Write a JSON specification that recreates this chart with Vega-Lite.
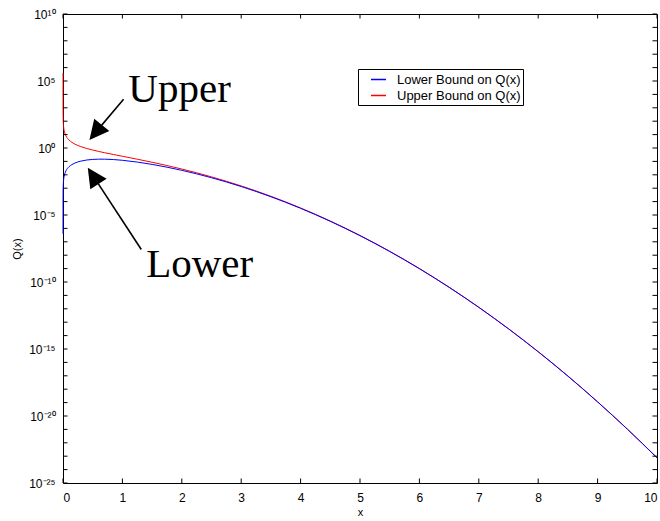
{
  "$schema": "https://vega.github.io/schema/vega-lite/v6.json",
  "width": 594,
  "height": 469,
  "autosize": {"type": "none"},
  "padding": {"left": 63, "top": 14, "right": 3, "bottom": 38},
  "background": "white",
  "config": {
    "view": {"stroke": "black", "strokeWidth": 1},
    "axis": {
      "labelFont": "Liberation Sans",
      "titleFont": "Liberation Sans",
      "labelFontSize": 12,
      "titleFontSize": 11,
      "titleFontWeight": "normal",
      "labelColor": "black",
      "titleColor": "black",
      "grid": false,
      "domain": false,
      "ticks": false,
      "tickSize": 0
    },
    "legend": {
      "labelFont": "Liberation Sans",
      "labelFontSize": 13,
      "labelColor": "black"
    }
  },
  "datasets": {
    "xticks": [{"t": 0}, {"t": 1}, {"t": 2}, {"t": 3}, {"t": 4}, {"t": 5}, {"t": 6}, {"t": 7}, {"t": 8}, {"t": 9}, {"t": 10}],
    "yticks": [{"t": 1e-25}, {"t": 1e-24}, {"t": 1e-23}, {"t": 1e-22}, {"t": 1e-21}, {"t": 1e-20}, {"t": 1e-19}, {"t": 1e-18}, {"t": 1e-17}, {"t": 1e-16}, {"t": 1e-15}, {"t": 1e-14}, {"t": 1e-13}, {"t": 1e-12}, {"t": 1e-11}, {"t": 1e-10}, {"t": 1e-9}, {"t": 1e-8}, {"t": 1e-7}, {"t": 1e-6}, {"t": 1e-5}, {"t": 1e-4}, {"t": 1e-3}, {"t": 1e-2}, {"t": 1e-1}, {"t": 1}, {"t": 10}, {"t": 100}, {"t": 1000}, {"t": 1e4}, {"t": 1e5}, {"t": 1e6}, {"t": 1e7}, {"t": 1e8}, {"t": 1e9}, {"t": 1e10}],
    "curves": [
      {"x": 0.000001, "q": 398942, "bound": "Upper Bound on Q(x)"},
      {"x": 0.00001, "q": 39894.2, "bound": "Upper Bound on Q(x)"},
      {"x": 0.0001, "q": 3989.42, "bound": "Upper Bound on Q(x)"},
      {"x": 0.001, "q": 398.942, "bound": "Upper Bound on Q(x)"},
      {"x": 0.003, "q": 132.98, "bound": "Upper Bound on Q(x)"},
      {"x": 0.01, "q": 39.89, "bound": "Upper Bound on Q(x)"},
      {"x": 0.02, "q": 19.943, "bound": "Upper Bound on Q(x)"},
      {"x": 0.03, "q": 13.292, "bound": "Upper Bound on Q(x)"},
      {"x": 0.05, "q": 7.9689, "bound": "Upper Bound on Q(x)"},
      {"x": 0.1, "q": 3.9695, "bound": "Upper Bound on Q(x)"},
      {"x": 0.15, "q": 2.6299, "bound": "Upper Bound on Q(x)"},
      {"x": 0.2, "q": 1.9552, "bound": "Upper Bound on Q(x)"},
      {"x": 0.25, "q": 1.5467, "bound": "Upper Bound on Q(x)"},
      {"x": 0.3, "q": 1.2713, "bound": "Upper Bound on Q(x)"},
      {"x": 0.4, "q": 0.92068, "bound": "Upper Bound on Q(x)"},
      {"x": 0.5, "q": 0.70413, "bound": "Upper Bound on Q(x)"},
      {"x": 0.6, "q": 0.55538, "bound": "Upper Bound on Q(x)"},
      {"x": 0.7, "q": 0.44608, "bound": "Upper Bound on Q(x)"},
      {"x": 0.85, "q": 0.32704, "bound": "Upper Bound on Q(x)"},
      {"x": 1, "q": 0.24197, "bound": "Upper Bound on Q(x)"},
      {"x": 1.25, "q": 0.14612, "bound": "Upper Bound on Q(x)"},
      {"x": 1.5, "q": 0.086345, "bound": "Upper Bound on Q(x)"},
      {"x": 2, "q": 0.026995, "bound": "Upper Bound on Q(x)"},
      {"x": 2.5, "q": 0.0070113, "bound": "Upper Bound on Q(x)"},
      {"x": 3, "q": 0.0014773, "bound": "Upper Bound on Q(x)"},
      {"x": 3.5, "q": 0.00024934, "bound": "Upper Bound on Q(x)"},
      {"x": 4, "q": 3.3458e-5, "bound": "Upper Bound on Q(x)"},
      {"x": 4.5, "q": 3.5519e-6, "bound": "Upper Bound on Q(x)"},
      {"x": 5, "q": 2.9734e-7, "bound": "Upper Bound on Q(x)"},
      {"x": 5.5, "q": 1.9582e-8, "bound": "Upper Bound on Q(x)"},
      {"x": 6, "q": 1.0127e-9, "bound": "Upper Bound on Q(x)"},
      {"x": 6.5, "q": 4.107e-11, "bound": "Upper Bound on Q(x)"},
      {"x": 7, "q": 1.305e-12, "bound": "Upper Bound on Q(x)"},
      {"x": 7.5, "q": 3.2458e-14, "bound": "Upper Bound on Q(x)"},
      {"x": 8, "q": 6.3153e-16, "bound": "Upper Bound on Q(x)"},
      {"x": 8.5, "q": 9.6025e-18, "bound": "Upper Bound on Q(x)"},
      {"x": 9, "q": 1.1422e-19, "bound": "Upper Bound on Q(x)"},
      {"x": 9.5, "q": 1.0607e-21, "bound": "Upper Bound on Q(x)"},
      {"x": 10, "q": 7.6946e-24, "bound": "Upper Bound on Q(x)"},
      {"x": 0.000001, "q": 3.9894e-7, "bound": "Lower Bound on Q(x)"},
      {"x": 0.00001, "q": 3.9894e-6, "bound": "Lower Bound on Q(x)"},
      {"x": 0.0001, "q": 3.9894e-5, "bound": "Lower Bound on Q(x)"},
      {"x": 0.001, "q": 0.00039894, "bound": "Lower Bound on Q(x)"},
      {"x": 0.003, "q": 0.0011968, "bound": "Lower Bound on Q(x)"},
      {"x": 0.01, "q": 0.0039889, "bound": "Lower Bound on Q(x)"},
      {"x": 0.02, "q": 0.007974, "bound": "Lower Bound on Q(x)"},
      {"x": 0.03, "q": 0.011952, "bound": "Lower Bound on Q(x)"},
      {"x": 0.05, "q": 0.019873, "bound": "Lower Bound on Q(x)"},
      {"x": 0.1, "q": 0.039302, "bound": "Lower Bound on Q(x)"},
      {"x": 0.15, "q": 0.05787, "bound": "Lower Bound on Q(x)"},
      {"x": 0.2, "q": 0.075201, "bound": "Lower Bound on Q(x)"},
      {"x": 0.25, "q": 0.090981, "bound": "Lower Bound on Q(x)"},
      {"x": 0.3, "q": 0.10497, "bound": "Lower Bound on Q(x)"},
      {"x": 0.4, "q": 0.12699, "bound": "Lower Bound on Q(x)"},
      {"x": 0.5, "q": 0.14083, "bound": "Lower Bound on Q(x)"},
      {"x": 0.6, "q": 0.14701, "bound": "Lower Bound on Q(x)"},
      {"x": 0.7, "q": 0.1467, "bound": "Lower Bound on Q(x)"},
      {"x": 0.85, "q": 0.13717, "bound": "Lower Bound on Q(x)"},
      {"x": 1, "q": 0.12099, "bound": "Lower Bound on Q(x)"},
      {"x": 1.25, "q": 0.089097, "bound": "Lower Bound on Q(x)"},
      {"x": 1.5, "q": 0.059777, "bound": "Lower Bound on Q(x)"},
      {"x": 2, "q": 0.021596, "bound": "Lower Bound on Q(x)"},
      {"x": 2.5, "q": 0.0060442, "bound": "Lower Bound on Q(x)"},
      {"x": 3, "q": 0.0013296, "bound": "Lower Bound on Q(x)"},
      {"x": 3.5, "q": 0.00023052, "bound": "Lower Bound on Q(x)"},
      {"x": 4, "q": 3.1489e-5, "bound": "Lower Bound on Q(x)"},
      {"x": 4.5, "q": 3.3848e-6, "bound": "Lower Bound on Q(x)"},
      {"x": 5, "q": 2.8591e-7, "bound": "Lower Bound on Q(x)"},
      {"x": 5.5, "q": 1.8955e-8, "bound": "Lower Bound on Q(x)"},
      {"x": 6, "q": 9.8528e-10, "bound": "Lower Bound on Q(x)"},
      {"x": 6.5, "q": 4.0121e-11, "bound": "Lower Bound on Q(x)"},
      {"x": 7, "q": 1.2789e-12, "bound": "Lower Bound on Q(x)"},
      {"x": 7.5, "q": 3.1891e-14, "bound": "Lower Bound on Q(x)"},
      {"x": 8, "q": 6.2182e-16, "bound": "Lower Bound on Q(x)"},
      {"x": 8.5, "q": 9.4713e-18, "bound": "Lower Bound on Q(x)"},
      {"x": 9, "q": 1.1283e-19, "bound": "Lower Bound on Q(x)"},
      {"x": 9.5, "q": 1.0491e-21, "bound": "Lower Bound on Q(x)"},
      {"x": 10, "q": 7.6184e-24, "bound": "Lower Bound on Q(x)"}
    ]
  },
  "layer": [
    {
      "data": {"name": "curves"},
      "mark": {"type": "line", "strokeWidth": 1, "interpolate": "monotone", "clip": false},
      "encoding": {
        "x": {
          "field": "x", "type": "quantitative",
          "scale": {"domain": [0, 10], "nice": false, "zero": false},
          "axis": {"orient": "bottom", "values": [0,1,2,3,4,5,6,7,8,9,10], "format": "d", "labelPadding": 9, "title": "x", "titlePadding": 3}
        },
        "y": {
          "field": "q", "type": "quantitative",
          "scale": {"type": "log", "domain": [1e-25, 1e10], "nice": false},
          "axis": {
            "orient": "left",
            "values": [1e-25,1e-20,1e-15,1e-10,1e-5,1,1e5,1e10],
            "labelExpr": "round(log(datum.value)/LN10) == 10 ? '10¹⁰' : round(log(datum.value)/LN10) == 5 ? '10⁵' : round(log(datum.value)/LN10) == 0 ? '10⁰' : round(log(datum.value)/LN10) == -5 ? '10⁻⁵' : round(log(datum.value)/LN10) == -10 ? '10⁻¹⁰' : round(log(datum.value)/LN10) == -15 ? '10⁻¹⁵' : round(log(datum.value)/LN10) == -20 ? '10⁻²⁰' : round(log(datum.value)/LN10) == -25 ? '10⁻²⁵' : ''",
            "labelPadding": 8,
            "title": "Q(x)",
            "titlePadding": 6
          }
        },
        "color": {
          "field": "bound", "type": "nominal",
          "scale": {"domain": ["Lower Bound on Q(x)", "Upper Bound on Q(x)"], "range": ["#0000ff", "#ff0000"]},
          "legend": {
            "title": null,
            "orient": "none",
            "legendX": 295,
            "legendY": 55,
            "strokeColor": "black",
            "fillColor": "white",
            "padding": 2,
            "symbolSize": 225,
            "symbolOffset": 10,
            "labelOffset": 10,
            "rowPadding": 0
          }
        }
      }
    },
    {
      "data": {"name": "xticks"},
      "mark": {"type": "rule", "color": "black", "strokeWidth": 1},
      "encoding": {
        "x": {"field": "t", "type": "quantitative", "scale": {"domain": [0, 10], "nice": false, "zero": false}, "axis": null},
        "y": {"datum": 1e-25, "type": "quantitative", "scale": {"type": "log", "domain": [1e-25, 1e10], "nice": false}, "axis": null},
        "y2": {"datum": 2.17e-25}
      }
    },
    {
      "data": {"name": "xticks"},
      "mark": {"type": "rule", "color": "black", "strokeWidth": 1},
      "encoding": {
        "x": {"field": "t", "type": "quantitative", "scale": {"domain": [0, 10], "nice": false, "zero": false}, "axis": null},
        "y": {"datum": 1e10, "type": "quantitative", "scale": {"type": "log", "domain": [1e-25, 1e10], "nice": false}, "axis": null},
        "y2": {"datum": 4.61e9}
      }
    },
    {
      "data": {"name": "yticks"},
      "mark": {"type": "rule", "color": "black", "strokeWidth": 1},
      "encoding": {
        "y": {"field": "t", "type": "quantitative", "scale": {"type": "log", "domain": [1e-25, 1e10], "nice": false}, "axis": null},
        "x": {"datum": 0, "type": "quantitative", "scale": {"domain": [0, 10], "nice": false, "zero": false}, "axis": null},
        "x2": {"datum": 0.076}
      }
    },
    {
      "data": {"name": "yticks"},
      "mark": {"type": "rule", "color": "black", "strokeWidth": 1},
      "encoding": {
        "y": {"field": "t", "type": "quantitative", "scale": {"type": "log", "domain": [1e-25, 1e10], "nice": false}, "axis": null},
        "x": {"datum": 10, "type": "quantitative", "scale": {"domain": [0, 10], "nice": false, "zero": false}, "axis": null},
        "x2": {"datum": 9.924}
      }
    },
    {
      "data": {"values": [
        {"x": 1.02, "y": 4266, "x2": 0.549, "y2": 14.62},
        {"x": 1.318, "y": 2.67e-8, "x2": 0.507, "y2": 0.00839}
      ]},
      "mark": {"type": "rule", "color": "black", "strokeWidth": 1.6},
      "encoding": {
        "x": {"field": "x", "type": "quantitative", "scale": {"domain": [0, 10], "nice": false, "zero": false}, "axis": null},
        "y": {"field": "y", "type": "quantitative", "scale": {"type": "log", "domain": [1e-25, 1e10], "nice": false}, "axis": null},
        "x2": {"field": "x2"},
        "y2": {"field": "y2"}
      }
    },
    {
      "data": {"values": [{"x": 0.549, "y": 14.62}]},
      "mark": {"type": "point", "shape": "M0,-1L-1,1L1,1Z", "filled": true, "color": "black", "opacity": 1, "size": 380, "angle": 219.3},
      "encoding": {
        "x": {"field": "x", "type": "quantitative", "scale": {"domain": [0, 10], "nice": false, "zero": false}, "axis": null},
        "y": {"field": "y", "type": "quantitative", "scale": {"type": "log", "domain": [1e-25, 1e10], "nice": false}, "axis": null}
      }
    },
    {
      "data": {"values": [{"x": 0.507, "y": 0.00839}]},
      "mark": {"type": "point", "shape": "M0,-1L-1,1L1,1Z", "filled": true, "color": "black", "opacity": 1, "size": 380, "angle": 326.8},
      "encoding": {
        "x": {"field": "x", "type": "quantitative", "scale": {"domain": [0, 10], "nice": false, "zero": false}, "axis": null},
        "y": {"field": "y", "type": "quantitative", "scale": {"type": "log", "domain": [1e-25, 1e10], "nice": false}, "axis": null}
      }
    },
    {
      "data": {"values": [
        {"x": 1.1, "y": 2680, "label": "Upper"},
        {"x": 1.4, "y": 2.29e-10, "label": "Lower"}
      ]},
      "mark": {"type": "text", "font": "Liberation Serif", "fontSize": 41, "align": "left", "baseline": "alphabetic", "color": "black"},
      "encoding": {
        "x": {"field": "x", "type": "quantitative", "scale": {"domain": [0, 10], "nice": false, "zero": false}, "axis": null},
        "y": {"field": "y", "type": "quantitative", "scale": {"type": "log", "domain": [1e-25, 1e10], "nice": false}, "axis": null},
        "text": {"field": "label"}
      }
    }
  ],
  "resolve": {"axis": {"x": "independent", "y": "independent"}}
}
